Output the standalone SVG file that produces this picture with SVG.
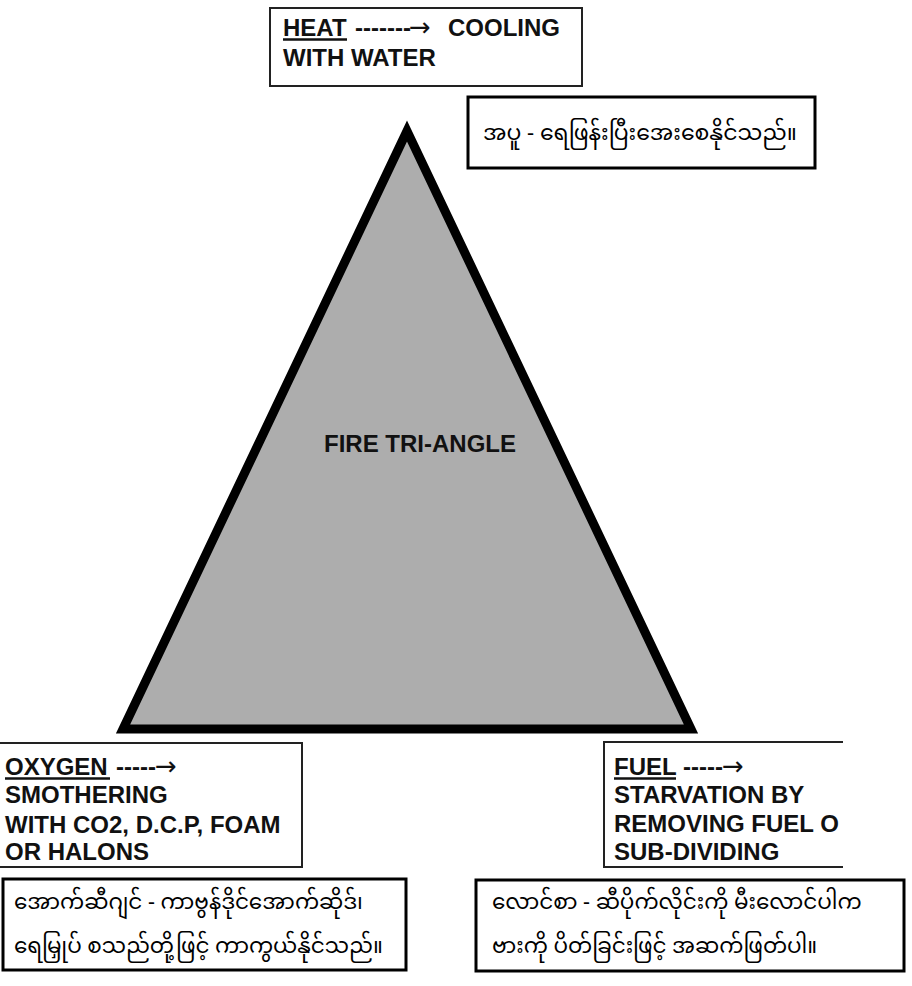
<svg xmlns="http://www.w3.org/2000/svg" width="912" height="986" viewBox="0 0 912 986">
<style>
.en{font-family:"Liberation Sans",Arial,sans-serif;font-weight:bold;font-size:24px;fill:#111}
.ar{font-family:"DejaVu Sans",sans-serif;font-size:26px;fill:#111}
.my{font-family:"Noto Sans Myanmar","Padauk","Myanmar Text","Noto Sans",sans-serif;font-size:21.5px;fill:#000}
.thin{fill:#fff;stroke:#222;stroke-width:2}
.thick{fill:#fff;stroke:#000;stroke-width:3}
.ul{stroke:#111;stroke-width:2.5}
</style>
<defs>
<clipPath id="fuelclip"><rect x="600" y="735" width="239" height="140"/></clipPath>
</defs>
<rect width="912" height="986" fill="#fff"/>
<g id="triangle">
<polygon points="407,131 123,729 691,729" fill="#adadad" stroke="#000" stroke-width="9" stroke-linejoin="miter"/>
<text class="en" x="420" y="452" text-anchor="middle">FIRE TRI-ANGLE</text>
</g>
<g id="heat">
<rect class="thin" x="270" y="8" width="312" height="78"/>
<text class="en" x="283" y="36">HEAT</text>
<line class="ul" x1="283" y1="39.5" x2="347" y2="39.5"/>
<text class="en" x="355" y="36">-------</text>
<text class="ar" x="409" y="36">→</text>
<text class="en" x="448" y="36">COOLING</text>
<text class="en" x="283" y="66">WITH WATER</text>
</g>
<g id="heat-mm">
<rect class="thick" x="468" y="97" width="347" height="71"/>
<text class="my" x="483" y="140" style="font-size:22px">အပူ - ရေဖြန်းပြီးအေးစေနိုင်သည်။</text>
</g>
<g id="oxygen">
<rect class="thin" x="-2" y="743" width="304" height="124"/>
<text class="en" x="5" y="775">OXYGEN</text>
<line class="ul" x1="5" y1="778.5" x2="110" y2="778.5"/>
<text class="en" x="116" y="775">-----</text>
<text class="ar" x="155" y="775">→</text>
<text class="en" x="5" y="803">SMOTHERING</text>
<text class="en" x="5" y="833">WITH CO2, D.C.P, FOAM</text>
<text class="en" x="5" y="860">OR HALONS</text>
</g>
<g id="fuel">
<line stroke="#222" stroke-width="2" x1="604" y1="742" x2="843" y2="742"/>
<line stroke="#222" stroke-width="2" x1="604" y1="867" x2="843" y2="867"/>
<line stroke="#222" stroke-width="2" x1="604" y1="741" x2="604" y2="868"/>
<g clip-path="url(#fuelclip)">
<text class="en" x="614" y="775">FUEL</text>
<line class="ul" x1="614" y1="778.5" x2="676" y2="778.5"/>
<text class="en" x="683" y="775">-----</text>
<text class="ar" x="722" y="775">→</text>
<text class="en" x="614" y="803">STARVATION BY</text>
<text class="en" x="614" y="832">REMOVING FUEL OR</text>
<text class="en" x="614" y="860">SUB-DIVIDING</text>
</g>
</g>
<g id="oxygen-mm">
<rect class="thick" x="3" y="879" width="403" height="91"/>
<text class="my" x="14" y="909">အောက်ဆီဂျင် - ကာဗွန်ဒိုင်အောက်ဆိုဒ်၊</text>
<text class="my" x="14" y="953">ရေမြှုပ် စသည်တို့ဖြင့် ကာကွယ်နိုင်သည်။</text>
</g>
<g id="fuel-mm">
<rect class="thick" x="476" y="880" width="428" height="91"/>
<text class="my" x="492" y="909">လောင်စာ - ဆီပိုက်လိုင်းကို မီးလောင်ပါက</text>
<text class="my" x="492" y="953">ဗားကို ပိတ်ခြင်းဖြင့် အဆက်ဖြတ်ပါ။</text>
</g>
<g id="connectors"></g>
</svg>
